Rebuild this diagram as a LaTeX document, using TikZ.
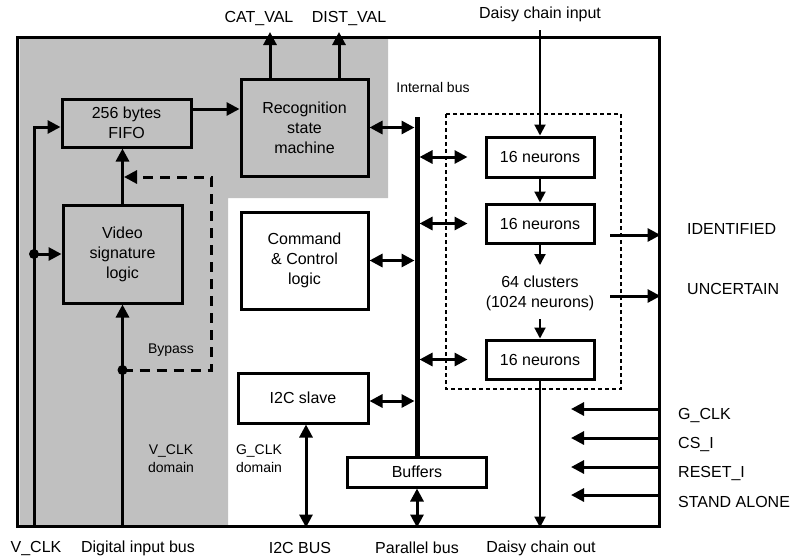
\documentclass[tikz,border=0pt]{standalone}
\usepackage{fontspec}
\setmainfont{Liberation Sans}
\usetikzlibrary{arrows.meta}
\definecolor{domaingray}{RGB}{192,192,192}

\begin{document}
\begin{tikzpicture}[x=1pt,y=-1pt,
	every node/.style={font=\fontsize{16}{20}\selectfont, align=center, inner sep=0pt},
	block/.style={draw=black, line width=3pt, fill=domaingray},
	wblock/.style={block, fill=white},
	small/.style={font=\fontsize{14}{18}\selectfont}]
	
	\tikzset{edge/.style = {-{Triangle[length=13pt,width=13pt]}, line width=3pt},
		dedge/.style = {{Triangle[length=13pt,width=13pt]}-{Triangle[length=13pt,width=13pt]}, line width=3pt},
		chain/.style = {-{Triangle[length=11pt,width=11pt]}, line width=2pt}}
	
	\useasboundingbox (0,0) rectangle (802,558);
	
	% V_CLK domain
	\fill[domaingray] (19.5,38) -- (388,38) -- (388,198) -- (228,198) -- (228,526) -- (19.5,526) -- cycle;
	\node[draw=black, line width=3pt, minimum width=642pt, minimum height=489pt] (chip) at (338,281.5) {};
	\draw[line width=1.4pt, dash pattern=on 4pt off 3pt] (446,114) rectangle (621,389);
	
	\node[block, minimum width=129pt, minimum height=48pt] (fifo) at (126.5,123) {256 bytes\\FIFO};
	\node[block, minimum width=127pt, minimum height=97pt] (rsm) at (304.5,127.5) {Recognition\\state\\machine};
	\node[block, minimum width=119pt, minimum height=98pt] (vsl) at (122.5,254) {Video\\signature\\logic};
	\node[wblock, minimum width=127pt, minimum height=97pt] (ccl) at (304.5,260.5) {Command\\\& Control\\logic};
	\node[wblock, minimum width=130pt, minimum height=50pt] (i2c) at (303,398) {I2C slave};
	\node[wblock, minimum width=139pt, minimum height=30pt] (buf) at (417,472) {Buffers};
	\node[wblock, minimum width=108pt, minimum height=40pt] (n1) at (540,157) {16 neurons};
	\node[wblock, minimum width=108pt, minimum height=39pt] (n2) at (540,223.5) {16 neurons};
	\node[wblock, minimum width=108pt, minimum height=39pt] (n3) at (540,359.5) {16 neurons};
	\node (clus) at (540,293.5) {64 clusters\\(1024 neurons)};
	
	\node[small] (ibus) at (433,87) {Internal bus};
	\node[small] (bypass) at (171,350) {Bypass};
	\node[small] (vdom) at (171,459) {V\_CLK\\domain};
	\node[small] (gdom) at (259,459) {G\_CLK\\domain};
	
	\node (catl) at (259,18) {CAT\_VAL};
	\node (distl) at (349,18) {DIST\_VAL};
	\node (dcil) at (540,14) {Daisy chain input};
	\node (vclkl) at (36,548) {V\_CLK};
	\node (dibl) at (138,548) {Digital input bus};
	\node (i2cl) at (300,548) {I2C BUS};
	\node (pbl) at (417,548) {Parallel bus};
	\node (dcol) at (541,548) {Daisy chain out};
	\node[anchor=west] (idl) at (687,229) {IDENTIFIED};
	\node[anchor=west] (unl) at (687,289) {UNCERTAIN};
	
	\coordinate (bustop) at (417,117);
	\coordinate (busl) at (414.5,117);
	\coordinate (busr) at (419.5,117);
	\coordinate (catv) at (270,32);
	\coordinate (distv) at (339,32);
	\coordinate (dcin) at (540,30);
	\coordinate (ctop) at (540,265);
	\coordinate (cbot) at (540,319);
	\coordinate (ident) at (610,235);
	\coordinate (uncert) at (610,296);
	\coordinate (vclk) at (34,526);
	\coordinate (vdot) at (34,254);
	\coordinate (dib) at (122.5,526);
	\coordinate (bdot) at (122.5,370);
	\coordinate (bp1) at (211,370);
	\coordinate (bp2) at (211,177);
	
	% left inputs
	\draw[line width=3pt] (vclk) -- (vdot);
	\draw[edge] (vdot) |- ([yshift=-4pt]fifo.west);
	\draw[edge] (vdot) -- (vsl.west);
	\fill (vdot) circle (5pt);
	\draw[edge] (dib) -- (vsl.south);
	\draw[edge] (vsl.north) -- (vsl.north |- fifo.south);
	\draw[-{Triangle[length=13pt,width=13pt]}, line width=3pt, dash pattern=on 10pt off 7pt]
		(bdot) -- (bp1) -- (bp2) -- ([xshift=1.5pt]vsl.north |- bp2);
	\fill (bdot) circle (5pt);
	
	% recognition
	\draw[edge] (fifo.east |- 0,109) -- (rsm.west |- 0,109);
	\draw[edge] (catv |- rsm.north) -- (catv);
	\draw[edge] (distv |- rsm.north) -- (distv);
	
	% internal bus
	\draw[dedge] (rsm.east) -- (busl |- rsm.east);
	\draw[dedge] (ccl.east) -- (busl |- ccl.east);
	\draw[dedge] ([yshift=-3pt]i2c.east) -- (busl |- 0,401);
	\draw[dedge] (busr |- n1.west) -- ([xshift=-17pt]n1.west);
	\draw[dedge] (busr |- n2.west) -- ([xshift=-17pt]n2.west);
	\draw[dedge] (busr |- n3.west) -- ([xshift=-17pt]n3.west);
	\draw[line width=5pt] (bustop) -- (buf.north);
	\draw[dedge] (buf.south) -- (buf.south |- chip.south);
	\draw[dedge] ([xshift=3pt]i2c.south) -- ([xshift=3pt]i2c.south |- chip.south);
	
	% daisy chain
	\draw[chain] (dcin) -- (n1.north);
	\draw[chain] (n1.south) -- (n2.north);
	\draw[chain] (n2.south) -- (ctop);
	\draw[chain] (cbot) -- (n3.north);
	\draw[chain] (n3.south) -- (n3.south |- chip.south);
	
	% outputs and control inputs
	\draw[edge] (ident) -- (ident -| chip.east);
	\draw[edge] (uncert) -- (uncert -| chip.east);
	\foreach \ya/\yl/\txt in {409/415/G\_CLK, 438/444/CS\_I, 467/473/RESET\_I, 495/502/STAND ALONE}
	{
		\draw[edge] (chip.east |- 0,\ya) -- (571,\ya);
		\node[anchor=west] at (678,\yl) {\txt};
	}
	
\end{tikzpicture}
\end{document}
